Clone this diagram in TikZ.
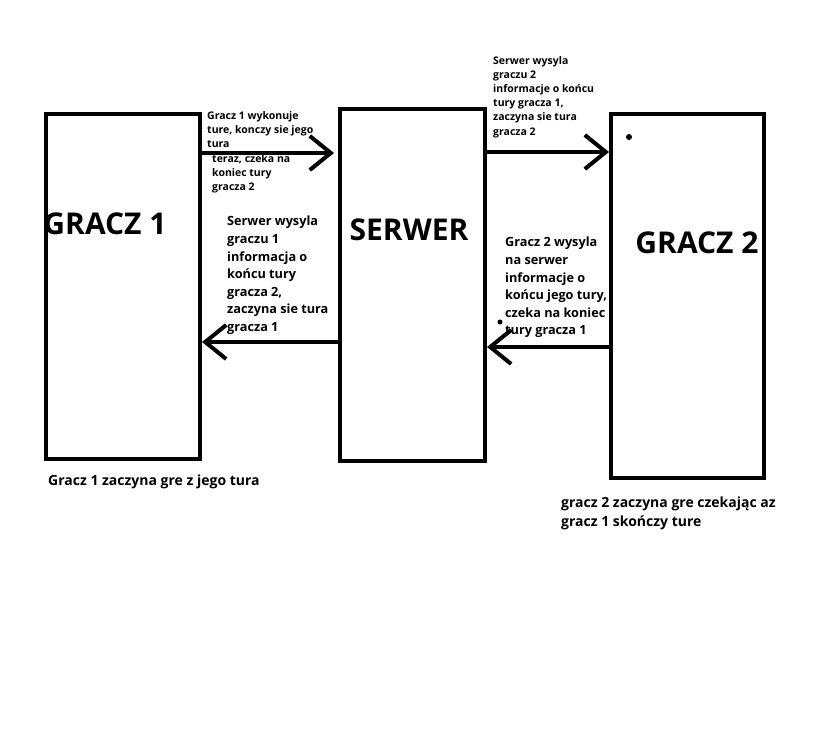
\documentclass[tikz,border=0pt]{standalone}
\usepackage{fontspec}
\setmainfont{Open Sans}
\usepackage{tikz}
\usetikzlibrary{arrows.meta}

\begin{document}
\begin{tikzpicture}[x=1pt,y=-1pt,
  box/.style={draw,line width=4pt,inner sep=0pt},
  title/.style={font=\bfseries\fontsize{30}{30}\selectfont},
  note/.style={anchor=north west,align=left,inner sep=0pt,font=\bfseries\fontsize{10.5}{14.2}\selectfont},
  bignote/.style={anchor=north west,align=left,inner sep=0pt,font=\bfseries\fontsize{12.7}{17.6}\selectfont},
  arr/.style={line width=4pt,-{Straight Barb[length=21pt,width=34pt,line width=4pt]}}]
%%
\useasboundingbox[fill=white] (0,0) rectangle (820,754);
%
\node[box,minimum width=154,minimum height=345] (g1) at (123,286.5) {};
\node[box,minimum width=145,minimum height=352] (srv) at (412.5,285) {};
\node[box,minimum width=153,minimum height=364] (g2) at (687.5,296) {};

\node[title] (t1) at (105,224) {GRACZ 1};
\node[title] (ts) at (409,230) {SERWER};
\node[title] (t2) at (697,243) {GRACZ 2};

\coordinate (y1) at (0,153);
\coordinate (y2) at (0,152);
\coordinate (y3) at (0,342);
\coordinate (y4) at (0,347);

\draw[arr] (g1.east |- y1) -- ([xshift=-4pt]srv.west |- y1);
\draw[arr] (srv.east |- y2) -- (g2.west |- y2);
\draw[arr] (srv.west |- y3) -- (g1.east |- y3);
\draw[arr] (g2.west |- y4) -- (srv.east |- y4);

\node[note] (n1a) at (207,111) {Gracz 1 wykonuje\\ture, konczy sie jego\\tura};
\node[note] (n1b) at (212,154) {teraz, czeka na\\koniec tury\\gracza 2};
\node[bignote] (n2) at (227,216) {Serwer wysyla\\graczu 1\\informacja o\\końcu tury\\gracza 2,\\zaczyna sie tura\\gracza 1};
\node[note] (n3) at (493,56) {Serwer wysyla\\graczu 2\\informacje o końcu\\tury gracza 1,\\zaczyna sie tura\\gracza 2};
\node[bignote] (n4) at (505,237) {Gracz 2 wysyla\\na serwer\\informacje o\\końcu jego tury,\\czeka na koniec\\tury gracza 1};

\node[anchor=north west,inner sep=0pt,font=\bfseries\fontsize{14}{19}\selectfont] (b1) at (48,475) {Gracz 1 zaczyna gre z jego tura};
\node[anchor=north west,align=left,inner sep=0pt,font=\bfseries\fontsize{14}{19}\selectfont] (b2) at (561,497) {gracz 2 zaczyna gre czekając az\\gracz 1 skończy ture};

\fill (629,137) circle (3);
\fill (500,322) circle (2.5);
%
\end{tikzpicture}
\end{document}
